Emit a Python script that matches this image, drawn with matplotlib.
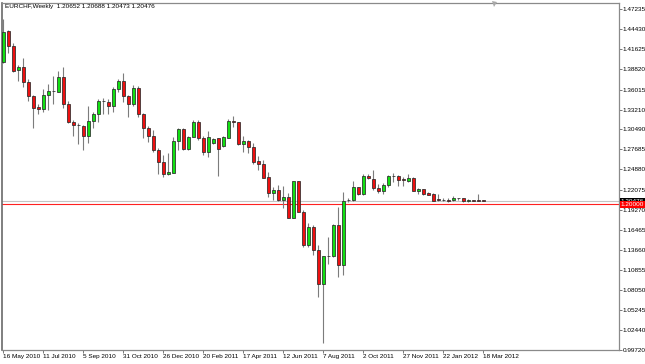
import matplotlib
matplotlib.use('Agg')
import matplotlib.pyplot as plt
import matplotlib.transforms as mtrans
from matplotlib.patches import Rectangle

title_text = "EURCHF,Weekly  1.20652 1.20688 1.20473 1.20476"

opens = [1.3989, 1.4417, 1.4212, 1.3870, 1.3911, 1.3707, 1.3516, 1.3354, 1.3326, 1.3520,
         1.3581, 1.3571, 1.3776, 1.3400, 1.3149, 1.3103, 1.3097, 1.2954, 1.3159, 1.3265,
         1.3438, 1.3428, 1.3372, 1.3609, 1.3720, 1.3511, 1.3396, 1.3627, 1.3260, 1.3070,
         1.2954, 1.2756, 1.2597, 1.2425, 1.2438, 1.2885, 1.3045, 1.2770, 1.2945, 1.3145,
         1.2931, 1.2736, 1.2853, 1.2922, 1.2814, 1.2931, 1.3169, 1.3145, 1.2843, 1.2889,
         1.2797, 1.2606, 1.2564, 1.2379, 1.2156, 1.2202, 1.2063, 1.2098, 1.1808, 1.2331,
         1.1891, 1.1436, 1.1682, 1.1366, 1.0892, 1.1286, 1.1286, 1.1714, 1.1157, 1.2058,
         1.2063, 1.2239, 1.2146, 1.2401, 1.2355, 1.2234, 1.2188, 1.2265, 1.2401, 1.2397,
         1.2350, 1.2331, 1.2364, 1.2192, 1.2212, 1.2156, 1.2146, 1.2070, 1.2063, 1.2056,
         1.2058, 1.2086, 1.2086, 1.2045, 1.2056, 1.2058, 1.20652]
highs = [1.4580, 1.4431, 1.4246, 1.3943, 1.4037, 1.3744, 1.3525, 1.3396, 1.3609, 1.3679,
         1.3794, 1.3864, 1.3911, 1.3446, 1.3177, 1.3131, 1.3107, 1.3376, 1.3293, 1.3466,
         1.3480, 1.3466, 1.3641, 1.3748, 1.3828, 1.3525, 1.3665, 1.3651, 1.3279, 1.3093,
         1.3035, 1.2784, 1.2689, 1.2721, 1.2936, 1.3059, 1.3059, 1.2959, 1.3177, 1.3177,
         1.2954, 1.3025, 1.2922, 1.2931, 1.2954, 1.3186, 1.3235, 1.3153, 1.2959, 1.2899,
         1.2853, 1.2672, 1.2624, 1.2449, 1.2248, 1.2272, 1.2251, 1.2156, 1.2331, 1.2331,
         1.1922, 1.1738, 1.1714, 1.1436, 1.1282, 1.1543, 1.1728, 1.1969, 1.2178, 1.2086,
         1.2331, 1.2248, 1.2421, 1.2421, 1.2474, 1.2286, 1.2295, 1.2411, 1.2434, 1.2411,
         1.2387, 1.2425, 1.2387, 1.2226, 1.2216, 1.2170, 1.2156, 1.2140, 1.2095, 1.2086,
         1.2122, 1.2095, 1.2095, 1.2073, 1.2063, 1.2142, 1.20688]
lows = [1.3975, 1.4106, 1.3850, 1.3725, 1.3641, 1.3446, 1.3059, 1.3256, 1.3284, 1.3317,
        1.3400, 1.3571, 1.3348, 1.3131, 1.2954, 1.2838, 1.2756, 1.2860, 1.3059, 1.3153,
        1.3256, 1.3256, 1.3293, 1.3571, 1.3432, 1.3215, 1.3376, 1.3223, 1.2922, 1.2875,
        1.2724, 1.2425, 1.2384, 1.2411, 1.2438, 1.2761, 1.2761, 1.2761, 1.2936, 1.2899,
        1.2689, 1.2666, 1.2843, 1.2397, 1.2805, 1.2922, 1.3080, 1.2830, 1.2736, 1.2722,
        1.2560, 1.2487, 1.2364, 1.2100, 1.2063, 1.2053, 1.1947, 1.1808, 1.1808, 1.1891,
        1.1412, 1.1403, 1.1296, 1.0707, 1.0066, 1.1167, 1.1272, 1.0994, 1.1018, 1.2030,
        1.2053, 1.2133, 1.2133, 1.2355, 1.2202, 1.2156, 1.2142, 1.2248, 1.2317, 1.2262,
        1.2258, 1.2317, 1.2188, 1.2146, 1.2136, 1.2128, 1.2045, 1.2045, 1.2053, 1.2035,
        1.2045, 1.2067, 1.2039, 1.2035, 1.2049, 1.2045, 1.20473]
closes = [1.4407, 1.4212, 1.3864, 1.3911, 1.3707, 1.3511, 1.3348, 1.3326, 1.3525, 1.3581,
          1.3583, 1.3776, 1.3405, 1.3149, 1.3103, 1.3101, 1.2954, 1.3163, 1.3265, 1.3442,
          1.3442, 1.3372, 1.3609, 1.3720, 1.3511, 1.3396, 1.3627, 1.3256, 1.3070, 1.2954,
          1.2756, 1.2597, 1.2430, 1.2448, 1.2885, 1.3045, 1.2770, 1.2945, 1.3145, 1.2931,
          1.2736, 1.2945, 1.2912, 1.2770, 1.2945, 1.3163, 1.3145, 1.2843, 1.2885, 1.2797,
          1.2597, 1.2560, 1.2373, 1.2156, 1.2202, 1.2063, 1.2098, 1.1808, 1.2331, 1.1891,
          1.1436, 1.1682, 1.1366, 1.0892, 1.1282, 1.1288, 1.1714, 1.1157, 1.2053, 1.2056,
          1.2239, 1.2146, 1.2401, 1.2364, 1.2234, 1.2188, 1.2272, 1.2397, 1.2399, 1.2341,
          1.2346, 1.2364, 1.2192, 1.2212, 1.2146, 1.2136, 1.2053, 1.2058, 1.2061, 1.2049,
          1.2086, 1.2084, 1.2045, 1.2063, 1.2055, 1.2053, 1.20476]

date_labels = ["16 May 2010", "11 Jul 2010", "5 Sep 2010", "31 Oct 2010", "26 Dec 2010",
               "20 Feb 2011", "17 Apr 2011", "12 Jun 2011", "7 Aug 2011", "2 Oct 2011",
               "27 Nov 2011", "22 Jan 2012", "18 Mar 2012"]
label_step = 8  # one date label every 8 weekly bars

price_ticks = [1.47235, 1.44430, 1.41625, 1.38820, 1.36015, 1.33210, 1.30490, 1.27685,
               1.24880, 1.22075, 1.19270, 1.16465, 1.13660, 1.10855, 1.08050, 1.05245,
               1.02440, 0.99720]
bid_price = 1.20476
level_price = 1.20000

W, H = 645, 364
fig = plt.figure(figsize=(W / 100, H / 100), dpi=100, facecolor='white')
ax = fig.add_axes([1.5 / W, (H - 350) / H, (619 - 1.5) / W, (350 - 3) / H])
ax.set_facecolor('white')

FONT = 'Liberation Sans'
FS = 4.6

bull = '#12e012'
bear = '#ee1010'
edge = '#2a2a2a'
wick = '#7c7c7c'
bw = 0.7

for i, (o, h, l, c) in enumerate(zip(opens, highs, lows, closes)):
    ax.plot([i, i], [l, h], color=wick, lw=0.8, solid_capstyle='butt', zorder=2)
    lo, hi = min(o, c), max(o, c)
    fc = bull if c > o else bear
    ax.add_patch(Rectangle((i - bw / 2, lo), bw, hi - lo, facecolor=fc,
                           edgecolor=edge, lw=0.55, zorder=3))

ax.axhline(bid_price, color='#c4c4c4', lw=0.8, zorder=1)
ax.axhline(level_price, color='#ff2020', lw=0.8, zorder=1)

ax.set_xlim(-0.36, 123.1)
ax.set_ylim(0.99720, 1.48071)

ax.set_xticks([k * label_step for k in range(len(date_labels))])
ax.set_xticklabels(date_labels, ha='left', fontsize=FS, family=FONT)
ax.tick_params(axis='x', direction='out', length=2.4, width=0.6, color='#606060',
               pad=0.8, labelcolor='black')

ax.yaxis.tick_right()
ax.set_yticks(price_ticks)
ax.set_yticklabels([f"{p:.5f}" for p in price_ticks], fontsize=FS, family=FONT)
ax.tick_params(axis='y', direction='out', length=2.0, width=0.6, color='#606060',
               pad=0.6, labelcolor='black')

for s in ['top', 'right', 'bottom']:
    ax.spines[s].set_color('#8a8a8a')
    ax.spines[s].set_linewidth(0.9)
ax.spines['left'].set_color('#6a6a6a')
ax.spines['left'].set_linewidth(1.2)

# price labels on the axis
blend = mtrans.blended_transform_factory(ax.transAxes, ax.transData)
off = mtrans.offset_copy(blend, fig=fig, x=1.8, y=0, units='dots')
ax.text(1.0, bid_price, f"{bid_price:.5f}", transform=off, ha='left', va='center',
        fontsize=FS, family=FONT, color='white', clip_on=False, zorder=5,
        bbox=dict(boxstyle='square,pad=0.15', facecolor='black', edgecolor='black', lw=0))
ax.text(1.0, level_price, f"{level_price:.5f}", transform=off, ha='left', va='center',
        fontsize=FS, family=FONT, color='white', clip_on=False, zorder=6,
        bbox=dict(boxstyle='square,pad=0.15', facecolor='#ff0000', edgecolor='#ff0000', lw=0))

# chart shift marker
ax.plot([0.7976], [0.9965], marker='v', color='#a8a8a8', ms=3.6, mew=0,
        transform=ax.transAxes, clip_on=False, zorder=6)

# header
ax.text(3.5 / 617.5, 1 - 3.8 / 347, title_text, transform=ax.transAxes, ha='left',
        va='center', fontsize=FS, family=FONT, color='black')

fig.savefig('out.png', dpi=100, facecolor='white')
